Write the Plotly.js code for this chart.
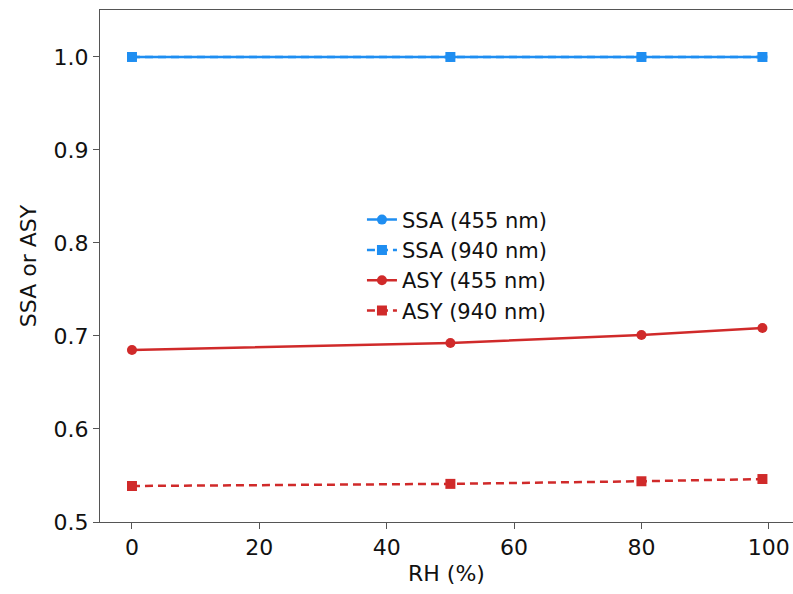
<!DOCTYPE html>
<html><head><meta charset="utf-8">
<script src="https://cdn.plot.ly/plotly-3.0.1.min.js"></script>
<style>body{margin:0;background:#fff}#c{width:793px;height:594px}</style>
</head><body><div id="c"></div>
<script>
const rh = [0, 50, 80, 99];
const ssa455 = [1.0, 1.0, 1.0, 1.0];
const ssa940 = [1.0, 1.0, 1.0, 1.0];
const asy455 = [0.685, 0.6925, 0.701, 0.7086];
const asy940 = [0.5387, 0.541, 0.5438, 0.5462];
const xTicks = [0, 20, 40, 60, 80, 100];
const yTicks = [0.5, 0.6, 0.7, 0.8, 0.9, 1.0];
const yTickText = ['0.5', '0.6', '0.7', '0.8', '0.9', '1.0'];

const blue = '#1f8ef1', red = '#d02a2a';
const traces = [
  {x: rh, y: ssa455, name: 'SSA (455 nm)', mode: 'lines+markers',
   line: {color: blue, width: 2.5}, marker: {symbol: 'circle', size: 10, color: blue}},
  {x: rh, y: ssa940, name: 'SSA (940 nm)', mode: 'lines+markers',
   line: {color: blue, width: 2.5, dash: '8px,5px'}, marker: {symbol: 'square', size: 10, color: blue}},
  {x: rh, y: asy455, name: 'ASY (455 nm)', mode: 'lines+markers',
   line: {color: red, width: 2.5}, marker: {symbol: 'circle', size: 10, color: red}},
  {x: rh, y: asy940, name: 'ASY (940 nm)', mode: 'lines+markers',
   line: {color: red, width: 2.5, dash: '8px,5px'}, marker: {symbol: 'square', size: 10, color: red}}
];
const font = {family: 'DejaVu Sans', size: 22, color: '#111'};
const layout = {
  width: 793, height: 594,
  margin: {l: 100, r: 0, t: 10, b: 72},
  paper_bgcolor: '#fff', plot_bgcolor: '#fff',
  font: font,
  showlegend: true,
  legend: {x: 0.378, y: 0.63, xanchor: 'left', yanchor: 'top', bgcolor: 'rgba(0,0,0,0)',
           font: {family: 'DejaVu Sans', size: 21, color: '#111'}, tracegroupgap: 0},
  xaxis: {range: [-5.02, 103.8], tickvals: xTicks, ticks: 'outside', ticklen: 6, tickcolor: '#555',
          showgrid: false, zeroline: false, showline: true, linecolor: '#555', linewidth: 1, mirror: true,
          title: {text: 'RH (%)', font: font, standoff: 6}, tickfont: font},
  yaxis: {range: [0.5, 1.0505], tickvals: yTicks, ticktext: yTickText, ticks: 'outside', ticklen: 6, tickcolor: '#555',
          showgrid: false, zeroline: false, showline: true, linecolor: '#555', linewidth: 1,
          title: {text: 'SSA or ASY', font: font, standoff: 10}, tickfont: font}
};
Plotly.newPlot('c', traces, layout, {displayModeBar: false});
</script></body></html>
